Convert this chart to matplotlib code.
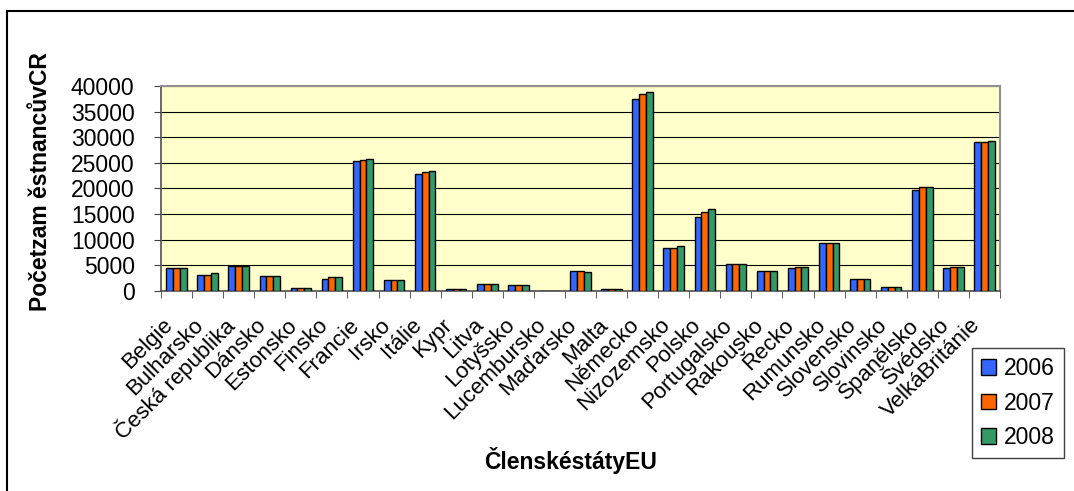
import numpy as np
import matplotlib
matplotlib.use("Agg")
import matplotlib.pyplot as plt
import matplotlib.transforms as mtransforms
from matplotlib.patches import Rectangle, Patch

plt.rcParams['font.family'] = ['Liberation Sans', 'DejaVu Sans']

# Member states
countries = ["Belgie", "Bulharsko", "Česká republika", "Dánsko", "Estonsko", "Finsko",
             "Francie", "Irsko", "Itálie", "Kypr", "Litva", "Lotyšsko", "Lucembursko",
             "Maďarsko", "Malta", "Německo", "Nizozemsko", "Polsko", "Portugalsko",
             "Rakousko", "Řecko", "Rumunsko", "Slovensko", "Slovinsko", "Španělsko",
             "Švédsko", "VelkáBritánie"]

# Employees per year
y2006 = [4400, 3200, 4900, 2900, 500, 2300, 25300, 2100, 22900, 300, 1400, 1200, 0,
         4000, 300, 37500, 8400, 14500, 5300, 4000, 4400, 9300, 2300, 850, 19700,
         4400, 29000]
y2007 = [4400, 3200, 4900, 2900, 500, 2650, 25600, 2100, 23200, 300, 1400, 1200, 0,
         4000, 300, 38400, 8400, 15400, 5300, 4000, 4700, 9300, 2300, 850, 20300,
         4700, 29000]
y2008 = [4400, 3500, 4900, 2900, 500, 2650, 25800, 2100, 23500, 300, 1400, 1200, 0,
         3800, 300, 38900, 8700, 16000, 5300, 4000, 4700, 9300, 2300, 850, 20300,
         4700, 29300]
years = ["2006", "2007", "2008"]
colors = ["#3366FF", "#FF6600", "#339966"]

W, H = 1074, 491
fig = plt.figure(figsize=(W / 100, H / 100), dpi=100)
ax = fig.add_axes([161 / W, 1 - 291 / H, 839 / W, 205 / H])
ax.set_facecolor("#FFFFCC")

x = np.arange(len(countries))
bw = 0.22
for i, (vals, c) in enumerate(zip([y2006, y2007, y2008], colors)):
    ax.bar(x + (i - 1) * bw, vals, width=bw, color=c, edgecolor="black",
           linewidth=1.0, zorder=3)

ax.set_xlim(-0.5, len(countries) - 0.5)
ax.set_ylim(0, 40000)
ax.set_yticks(np.arange(0, 40001, 5000))
ax.yaxis.grid(True, color="black", linewidth=0.8, zorder=1)
ax.set_axisbelow(True)

ax.tick_params(axis="y", labelsize=16.5, length=5, direction="out", pad=14,
               color="#404040")
ax.set_xticks(np.arange(-0.5, len(countries), 1.0), minor=True)
ax.set_xticks(x)
ax.set_xticklabels(countries, rotation=45, ha="right", va="center",
                   rotation_mode="anchor", fontsize=16)
ax.tick_params(axis="x", which="major", length=0, pad=0)
ax.tick_params(axis="x", which="minor", length=5, color="#404040")

offset = mtransforms.ScaledTranslation(-7 / 100, -31 / 100, fig.dpi_scale_trans)
for lab in ax.get_xticklabels():
    lab.set_transform(lab.get_transform() + offset)

for s in ["top", "right"]:
    ax.spines[s].set_color("#909090")
    ax.spines[s].set_linewidth(1.5)
for s in ["left", "bottom"]:
    ax.spines[s].set_color("#505050")
    ax.spines[s].set_linewidth(1.2)

fig.text(41 / W, 1 - 182 / H, "Početzam ěstnancůvCR", rotation=90, ha="center",
         va="center", fontsize=16.5, fontweight="bold")
fig.text(571 / W, 1 - 460 / H, "ČlenskéstátyEU", ha="center", va="center",
         fontsize=16.5, fontweight="bold")

handles = [Patch(facecolor=c, edgecolor="black", linewidth=1.0) for c in colors]
leg = fig.legend(handles, years, loc="upper left",
                 bbox_to_anchor=(972 / W, 1 - 348 / H), borderaxespad=0,
                 fontsize=16.5, handlelength=0.65, handleheight=0.65,
                 handletextpad=0.35, labelspacing=0.5, borderpad=0.4,
                 fancybox=False, framealpha=1, edgecolor="#404040")
leg.get_frame().set_linewidth(1.0)

# chart area border
fig.patches.append(Rectangle((7 / W, -0.1), 1.2, 1.1 - 11 / H, fill=False,
                             edgecolor="black", linewidth=1.5,
                             transform=fig.transFigure))

plt.savefig("out.png", dpi=100)
